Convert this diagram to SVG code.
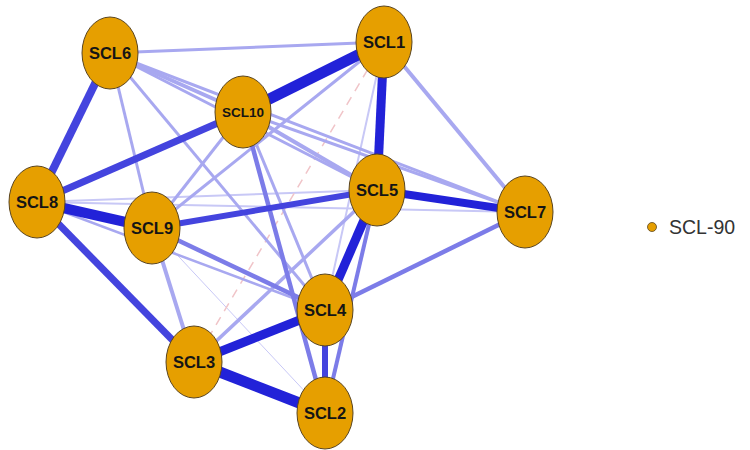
<svg xmlns="http://www.w3.org/2000/svg" width="750" height="450" viewBox="0 0 750 450">
<style>
.n ellipse{fill:#E69F00;stroke:#5a4520;stroke-width:1}
.n text{font-family:"Liberation Sans",Arial,sans-serif;font-weight:bold;font-size:16.5px;fill:#151515;text-anchor:middle;dominant-baseline:central}
.e line{stroke-linecap:butt}
.f{stroke:#c8c8f6}
.l{stroke:#a8a8f0}
.m{stroke:#7c7ce8}
.s{stroke:#4444de}
.d{stroke:#2222d8}
.neg{stroke:#f0c4c8;stroke-dasharray:9 7}
</style>
<rect width="750" height="450" fill="#ffffff"/>
<g id="edges" class="e">
<line class="f" x1="152" y1="228" x2="325" y2="413" stroke-width="1"/>
<line class="f" x1="37" y1="202" x2="377" y2="190" stroke-width="2"/>
<line class="f" x1="37" y1="202" x2="525" y2="212" stroke-width="2"/>
<line class="f" x1="384" y1="42" x2="325" y2="310" stroke-width="2"/>
<line class="neg" x1="384" y1="42" x2="194" y2="362" stroke-width="1.5"/>
<line class="l" x1="37" y1="202" x2="325" y2="310" stroke-width="2.5"/>
<line class="l" x1="110" y1="53" x2="384" y2="42" stroke-width="3"/>
<line class="l" x1="110" y1="53" x2="377" y2="190" stroke-width="3"/>
<line class="l" x1="110" y1="53" x2="525" y2="212" stroke-width="3"/>
<line class="l" x1="110" y1="53" x2="243" y2="112" stroke-width="4"/>
<line class="l" x1="110" y1="53" x2="152" y2="228" stroke-width="3"/>
<line class="l" x1="110" y1="53" x2="325" y2="310" stroke-width="3"/>
<line class="l" x1="243" y1="112" x2="525" y2="212" stroke-width="3"/>
<line class="l" x1="243" y1="112" x2="325" y2="310" stroke-width="3"/>
<line class="l" x1="152" y1="228" x2="243" y2="112" stroke-width="3"/>
<line class="l" x1="152" y1="228" x2="384" y2="42" stroke-width="3"/>
<line class="l" x1="194" y1="362" x2="377" y2="190" stroke-width="3.5"/>
<line class="l" x1="384" y1="42" x2="525" y2="212" stroke-width="4"/>
<line class="l" x1="243" y1="112" x2="377" y2="190" stroke-width="4"/>
<line class="l" x1="152" y1="228" x2="194" y2="362" stroke-width="4"/>
<line class="m" x1="525" y1="212" x2="325" y2="310" stroke-width="4.5"/>
<line class="m" x1="152" y1="228" x2="325" y2="310" stroke-width="4.5"/>
<line class="m" x1="377" y1="190" x2="325" y2="413" stroke-width="4"/>
<line class="m" x1="243" y1="112" x2="325" y2="413" stroke-width="4.5"/>
<line class="s" x1="152" y1="228" x2="377" y2="190" stroke-width="6"/>
<line class="s" x1="325" y1="310" x2="325" y2="413" stroke-width="6"/>
<line class="s" x1="110" y1="53" x2="37" y2="202" stroke-width="8"/>
<line class="s" x1="37" y1="202" x2="243" y2="112" stroke-width="7"/>
<line class="s" x1="37" y1="202" x2="194" y2="362" stroke-width="7"/>
<line class="d" x1="377" y1="190" x2="525" y2="212" stroke-width="8"/>
<line class="d" x1="37" y1="202" x2="152" y2="228" stroke-width="10"/>
<line class="d" x1="384" y1="42" x2="377" y2="190" stroke-width="9"/>
<line class="d" x1="377" y1="190" x2="325" y2="310" stroke-width="9"/>
<line class="d" x1="194" y1="362" x2="325" y2="310" stroke-width="9"/>
<line class="d" x1="194" y1="362" x2="325" y2="413" stroke-width="11"/>
<line class="d" x1="243" y1="112" x2="384" y2="42" stroke-width="11"/>
</g>
<g id="SCL1" class="n"><ellipse cx="384" cy="42" rx="28" ry="36"/><text x="384" y="42">SCL1</text></g>
<g id="SCL2" class="n"><ellipse cx="325" cy="413" rx="28" ry="36"/><text x="325" y="413">SCL2</text></g>
<g id="SCL3" class="n"><ellipse cx="194" cy="362" rx="28" ry="36"/><text x="194" y="362">SCL3</text></g>
<g id="SCL4" class="n"><ellipse cx="325" cy="310" rx="28" ry="36"/><text x="325" y="310">SCL4</text></g>
<g id="SCL5" class="n"><ellipse cx="377" cy="190" rx="28" ry="36"/><text x="377" y="190">SCL5</text></g>
<g id="SCL6" class="n"><ellipse cx="110" cy="53" rx="28" ry="36"/><text x="110" y="53">SCL6</text></g>
<g id="SCL7" class="n"><ellipse cx="525" cy="212" rx="28" ry="36"/><text x="525" y="212">SCL7</text></g>
<g id="SCL8" class="n"><ellipse cx="37" cy="202" rx="28" ry="36"/><text x="37" y="202">SCL8</text></g>
<g id="SCL9" class="n"><ellipse cx="152" cy="228" rx="28" ry="36"/><text x="152" y="228">SCL9</text></g>
<g id="SCL10" class="n"><ellipse cx="243" cy="112" rx="28" ry="36"/><text x="243" y="112" style="font-size:13.5px">SCL10</text></g>
<g id="legend">
<circle cx="652" cy="227" r="4.5" fill="#E69F00" stroke="#5a4520" stroke-width="0.8"/>
<text x="669" y="234" font-family="Liberation Sans, Arial, sans-serif" font-size="19.5" fill="#333333">SCL-90</text>
</g>
</svg>
